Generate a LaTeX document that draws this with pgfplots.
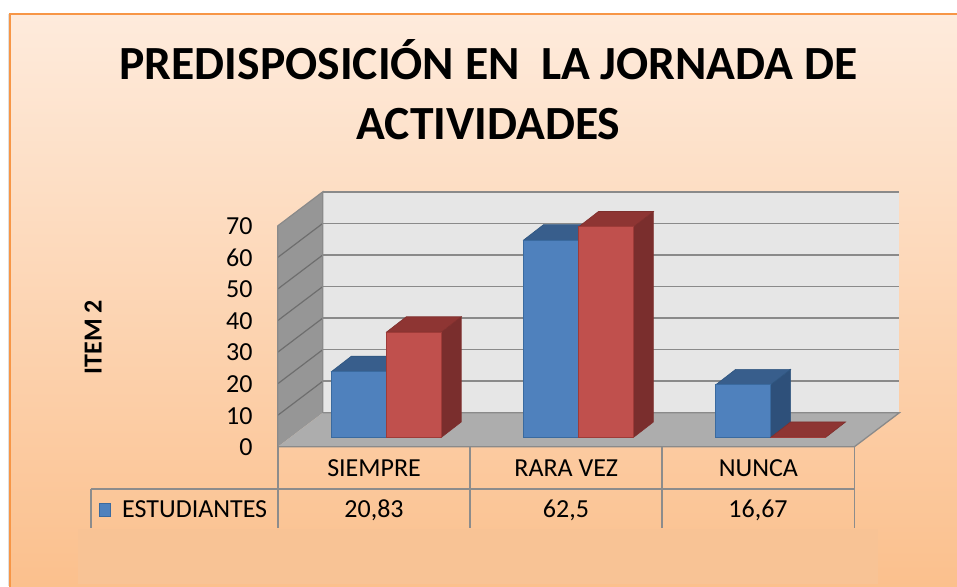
\documentclass[border=0pt]{standalone}
\usepackage{fontspec}
\setmainfont{Carlito}
\usepackage{pgfplots}
\pgfplotsset{compat=1.18}
\definecolor{bgtop}{HTML}{FEEBDC}
\definecolor{bgbot}{HTML}{FBC08D}
\definecolor{frame}{HTML}{F79646}
\definecolor{cover}{HTML}{F8C395}
\definecolor{bfront}{HTML}{4F81BD}
\definecolor{btop}{HTML}{385E8C}
\definecolor{bside}{HTML}{2E507A}
\definecolor{bedge}{HTML}{3A6A9F}
\definecolor{rfront}{HTML}{C0504D}
\definecolor{rtop}{HTML}{8E3533}
\definecolor{rside}{HTML}{7A2E2D}
\definecolor{redge}{HTML}{9E3B38}
\definecolor{backwall}{HTML}{E6E6E6}
\definecolor{leftwall}{HTML}{969696}
\definecolor{floorc}{HTML}{ADADAD}
\definecolor{gridc}{HTML}{8A8A8A}
\definecolor{tablec}{HTML}{8C8C8C}
\begin{document}
\begin{tikzpicture}
\begin{scope}[x=1pt,y=1pt]
\path[use as bounding box] (0,0) rectangle (957,586);
\fill[white] (0,0) rectangle (957,586);
\fill[black!12] (8,0) rectangle (10,572);
\shade[top color=bgtop, bottom color=bgbot] (10,0) rectangle (957,572);
\draw[frame, line width=1.5] (10,-2) -- (10,572) -- (960,572);
\node[anchor=base, font=\fontsize{47.6}{56}\bfseries\selectfont] at (488.5,506) {PREDISPOSICIÓN EN\ \ LA JORNADA DE};
\node[anchor=base, font=\fontsize{47.6}{56}\bfseries\selectfont] at (488.5,446) {ACTIVIDADES};
\node[rotate=90, font=\fontsize{26}{30}\bfseries\selectfont] at (93,249) {ITEM 2};
\end{scope}
\begin{axis}[
  at={(290.4pt,148.7pt)}, anchor=south west,
  scale only axis, width=576.5pt, height=221pt,
  xmin=-0.5, xmax=2.5, ymin=0, ymax=70,
  enlargelimits=false, clip=false,
  axis line style={draw=none}, major tick length=0pt,
  ytick={0,10,20,30,40,50,60,70},
  xtick={0,1,2}, xticklabels={SIEMPRE,RARA VEZ,NUNCA},
  tick label style={font=\fontsize{26}{30}\selectfont},
  /pgf/number format/assume math mode=true,
  yticklabel style={anchor=east, inner sep=0pt, xshift=-37.7pt, yshift=-10pt},
  xticklabel style={anchor=base, inner sep=0pt, xshift=-12.4pt, yshift=-39.2pt},
]
% back wall
\fill[backwall] (-0.3315,7.754) rectangle (2.6685,77.754);
\pgfplotsinvokeforeach{10,20,30,40,50,60,70}{
  \draw[gridc, line width=1.6] (-0.3315,#1+7.754) -- (2.6685,#1+7.754);
}
% left wall
\fill[leftwall] (-0.5655,-3.016) -- (-0.5655,66.984) -- (-0.3315,77.754) -- (-0.3315,7.754) -- cycle;
\pgfplotsinvokeforeach{10,20,30,40,50,60}{
  \draw[gridc!80!black, line width=1.2] (-0.5655,#1-3.016) -- (-0.3315,#1+7.754);
}
\draw[gridc, line width=1.2] (-0.5655,-3.016) -- (-0.5655,66.984) -- (-0.3315,77.754) -- (-0.3315,7.754);
% floor
\fill[floorc] (-0.5655,-3.016) -- (2.4345,-3.016) -- (2.6685,7.754) -- (-0.3315,7.754) -- cycle;
\draw[gridc, line width=1.3] (-0.5655,-3.016) -- (2.4345,-3.016) -- (2.6685,7.754) -- (-0.3315,7.754);

% blue series (ESTUDIANTES): 20.83, 62.5, 16.67
\addplot[fill=bside, draw=bedge!80!black, line width=0.6] coordinates {(0,0) (0,20.83) (0.103,25.68) (0.103,4.85)} -- cycle;
\addplot[fill=btop, draw=bedge!80!black, line width=0.6] coordinates {(-0.286,20.83) (0,20.83) (0.103,25.68) (-0.183,25.68)} -- cycle;
\addplot[fill=bside, draw=bedge!80!black, line width=0.6] coordinates {(1,0) (1,62.5) (1.103,67.35) (1.103,4.85)} -- cycle;
\addplot[fill=btop, draw=bedge!80!black, line width=0.6] coordinates {(0.714,62.5) (1,62.5) (1.103,67.35) (0.817,67.35)} -- cycle;
\addplot[fill=bside, draw=bedge!80!black, line width=0.6] coordinates {(2,0) (2,16.67) (2.103,21.52) (2.103,4.85)} -- cycle;
\addplot[fill=btop, draw=bedge!80!black, line width=0.6] coordinates {(1.714,16.67) (2,16.67) (2.103,21.52) (1.817,21.52)} -- cycle;
\addplot[ybar, bar width=0.286, bar shift=-0.143, fill=bfront, draw=bedge, line width=0.8]
  coordinates {(0,20.83) (1,62.5) (2,16.67)};

% red series: 33.33, 66.67, 0
\addplot[fill=rside, draw=redge!80!black, line width=0.6] coordinates {(0.286,0) (0.286,33.33) (0.389,38.18) (0.389,4.85)} -- cycle;
\addplot[fill=rtop, draw=redge!80!black, line width=0.6] coordinates {(0,33.33) (0.286,33.33) (0.389,38.18) (0.103,38.18)} -- cycle;
\addplot[fill=rside, draw=redge!80!black, line width=0.6] coordinates {(1.286,0) (1.286,66.67) (1.389,71.52) (1.389,4.85)} -- cycle;
\addplot[fill=rtop, draw=redge!80!black, line width=0.6] coordinates {(1,66.67) (1.286,66.67) (1.389,71.52) (1.103,71.52)} -- cycle;
\addplot[fill=rtop, draw=redge!80!black, line width=0.6] coordinates {(2,0) (2.286,0) (2.389,4.85) (2.103,4.85)} -- cycle;
\addplot[ybar, bar width=0.286, bar shift=0.143, fill=rfront, draw=redge, line width=0.8]
  coordinates {(0,33.33) (1,66.67) (2,0)};
\end{axis}
\begin{scope}[x=1pt,y=1pt]
% data table
\draw[tablec, line width=1.2] (278,139) -- (278,58);
\draw[tablec, line width=1.2] (470,139) -- (470,58);
\draw[tablec, line width=1.2] (662,139) -- (662,58);
\draw[tablec, line width=1.2] (854.5,139) -- (854.5,58);
\draw[tablec, line width=1.2] (91,97) -- (854.5,97);
\draw[tablec, line width=1.2] (91,97) -- (91,58);
\fill[bfront, draw=bedge, line width=0.8] (99.5,69.5) rectangle (110.5,83);
\node[anchor=base west, inner sep=0pt, font=\fontsize{26}{30}\selectfont] at (122,68.5) {ESTUDIANTES};
\node[anchor=base, inner sep=0pt, font=\fontsize{26}{30}\selectfont] at (374,68.5) {20,83};
\node[anchor=base, inner sep=0pt, font=\fontsize{26}{30}\selectfont] at (566,68.5) {62,5};
\node[anchor=base, inner sep=0pt, font=\fontsize{26}{30}\selectfont] at (758,68.5) {16,67};
% covering box
\fill[cover] (78,2) rectangle (878,57);
\end{scope}
\end{tikzpicture}
\end{document}
